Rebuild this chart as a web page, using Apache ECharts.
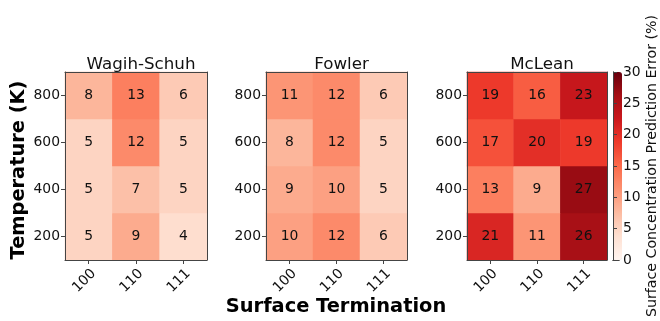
<!DOCTYPE html>
<html><head><meta charset="utf-8">
<script src="https://cdn.jsdelivr.net/npm/echarts@6/dist/echarts.min.js"></script>
<style>html,body{margin:0;padding:0;background:#fff}#c{width:660px;height:321px}</style>
</head><body><div id="c"></div>
<script>
const terminations = ['100', '110', '111'];
const temperatures = ['200', '400', '600', '800'];
const panelTitles = ['Wagih-Schuh', 'Fowler', 'McLean'];
// rows ordered by temperature 200, 400, 600, 800; columns 100, 110, 111
const wagihSchuh = [[5, 9, 4], [5, 7, 5], [5, 12, 5], [8, 13, 6]];
const fowler = [[10, 12, 6], [9, 10, 5], [8, 12, 5], [11, 12, 6]];
const mclean = [[21, 11, 26], [13, 9, 27], [17, 20, 19], [19, 16, 23]];
const colorbarTicks = [0, 5, 10, 15, 20, 25, 30];
const redsColormap = ['#fff5f0', '#fee0d2', '#fcbba1', '#fc9272', '#fb6a4a', '#ef3b2c', '#cb181d', '#a50f15', '#67000d'];

const panels = [wagihSchuh, fowler, mclean];
const FONT = 'DejaVu Sans';
const frameColor = '#444';
const gridLefts = [65, 266, 467];
const gridWidths = [142, 141, 140];
const TOP = 72, HEIGHT = 188;

const grids = [], xAxes = [], yAxes = [], series = [], titles = [];
panels.forEach((m, p) => {
  grids.push({left: gridLefts[p], top: TOP, width: gridWidths[p], height: HEIGHT, containLabel: false});
  titles.push({text: panelTitles[p], left: gridLefts[p] + gridWidths[p] / 2, top: 51, textAlign: 'center',
    textStyle: {fontFamily: FONT, fontSize: 16.7, fontWeight: 'normal', color: '#111'}});
  xAxes.push({type: 'category', data: terminations, gridIndex: p, position: 'bottom', z: 10,
    axisLine: {show: true, lineStyle: {color: frameColor, width: 1}},
    axisTick: {show: true, alignWithLabel: true, length: 4, lineStyle: {color: frameColor}},
    axisLabel: {rotate: 45, fontFamily: FONT, fontSize: 13.9, color: '#111', margin: 6.5, interval: 0,
      verticalAlign: 'top', lineHeight: 14},
    splitLine: {show: false}});
  xAxes.push({type: 'category', data: terminations, gridIndex: p, position: 'top', z: 10,
    axisLine: {show: true, lineStyle: {color: frameColor, width: 1}},
    axisTick: {show: false}, axisLabel: {show: false}, splitLine: {show: false}});
  yAxes.push({type: 'category', data: temperatures, gridIndex: p, position: 'left', z: 10,
    axisLine: {show: true, lineStyle: {color: frameColor, width: 1}},
    axisTick: {show: true, alignWithLabel: true, length: 4, lineStyle: {color: frameColor}},
    axisLabel: {fontFamily: FONT, fontSize: 13.9, color: '#111', margin: 5},
    splitLine: {show: false}});
  yAxes.push({type: 'category', data: temperatures, gridIndex: p, position: 'right', z: 10,
    axisLine: {show: true, lineStyle: {color: frameColor, width: 1}},
    axisTick: {show: false}, axisLabel: {show: false}, splitLine: {show: false}});
  const data = [];
  m.forEach((row, yi) => row.forEach((v, xi) => data.push([xi, yi, v])));
  series.push({type: 'heatmap', xAxisIndex: 2 * p, yAxisIndex: 2 * p, data: data,
    label: {show: true, formatter: q => q.value[2], fontFamily: FONT, fontSize: 13.9, color: '#111'},
    emphasis: {disabled: true}, itemStyle: {borderWidth: 0}});
});

// colorbar axis grid
const cbLeft = 613, cbWidth = 9;
grids.push({left: cbLeft, top: TOP, width: cbWidth, height: HEIGHT});
xAxes.push({type: 'value', gridIndex: 3, position: 'bottom', min: 0, max: 1, z: 10,
  axisLine: {show: true, lineStyle: {color: frameColor}}, axisTick: {show: false}, axisLabel: {show: false}, splitLine: {show: false}});
xAxes.push({type: 'value', gridIndex: 3, position: 'top', min: 0, max: 1, z: 10,
  axisLine: {show: true, lineStyle: {color: frameColor}}, axisTick: {show: false}, axisLabel: {show: false}, splitLine: {show: false}});
yAxes.push({type: 'value', gridIndex: 3, position: 'right', min: colorbarTicks[0], max: colorbarTicks[colorbarTicks.length - 1], interval: 5, z: 10,
  name: 'Surface Concentration Prediction Error (%)', nameLocation: 'middle', nameGap: 26, nameRotate: 90,
  nameTextStyle: {fontFamily: FONT, fontSize: 14.2, color: '#111'},
  axisLine: {show: true, lineStyle: {color: frameColor}},
  axisTick: {show: true, length: 4, lineStyle: {color: frameColor}},
  axisLabel: {fontFamily: FONT, fontSize: 13.9, color: '#111', margin: 4}, splitLine: {show: false}});
yAxes.push({type: 'value', gridIndex: 3, position: 'left', min: 0, max: 30, z: 10,
  axisLine: {show: true, lineStyle: {color: frameColor}}, axisTick: {show: false}, axisLabel: {show: false}, splitLine: {show: false}});
series.push({type: 'scatter', xAxisIndex: 6, yAxisIndex: 6, data: [], silent: true});

const chart = echarts.init(document.getElementById('c'), null, {renderer: 'canvas'});
chart.setOption({
  animation: false,
  backgroundColor: '#fff',
  title: titles,
  grid: grids, xAxis: xAxes, yAxis: yAxes, series: series,
  visualMap: {type: 'continuous', min: 0, max: 30, seriesIndex: [0, 1, 2], calculable: false, realtime: false,
    orient: 'vertical', left: cbLeft, top: TOP, itemWidth: cbWidth, itemHeight: HEIGHT, padding: 0,
    text: null, showLabel: false, hoverLink: false, z: 1,
    inRange: {color: redsColormap}},
  graphic: [
    {type: 'text', x: 18.5, y: 170, rotation: Math.PI / 2, silent: true,
     style: {text: 'Temperature (K)', fill: '#000', font: 'bold 19.4px "DejaVu Sans"', textAlign: 'center', textVerticalAlign: 'middle'}},
    {type: 'text', x: 336, y: 307, silent: true,
     style: {text: 'Surface Termination', fill: '#000', font: 'bold 19.4px "DejaVu Sans"', textAlign: 'center', textVerticalAlign: 'middle'}}
  ]
});
</script></body></html>
